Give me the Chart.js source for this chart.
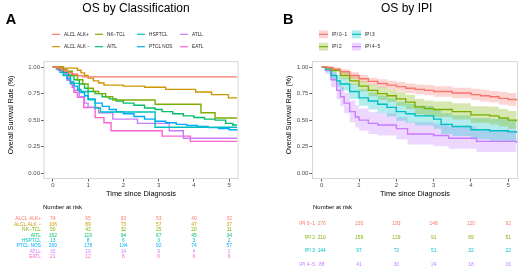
<!DOCTYPE html>
<html><head><meta charset="utf-8">
<script src="https://cdn.jsdelivr.net/npm/chart.js@4.4.0/dist/chart.umd.min.js"></script>
<style>
html,body{margin:0;padding:0;background:#fff;}
#wrap{position:relative;width:520px;height:275px;overflow:hidden;}
canvas{position:absolute;top:0;}
</style></head><body>
<div id="wrap"><canvas id="cA" width="260" height="275" style="left:0"></canvas><canvas id="cB" width="260" height="275" style="left:260px"></canvas></div>
<script>
const FONT = '"Liberation Sans", Arial, Helvetica, sans-serif';
const timeTicks = [0, 1, 2, 3, 4, 5];
const survTicks = [0, 0.25, 0.5, 0.75, 1];

// ---------- Panel A: OS by Classification ----------
const groupsA = ['ALCL ALK+', 'ALCL ALK \u2212', 'NK\u2212TCL', 'AITL', 'HSPTCL', 'PTCL NOS', 'ATLL', 'EATL'];
const colorsA = ['#F8766D', '#CD9600', '#7CAE00', '#00BE67', '#00BFC4', '#00A9FF', '#C77CFF', '#FF61CC'];

const tAlclPos = [0, 0.12, 0.25, 0.35, 0.45, 0.55, 0.7, 0.85, 5.22];
const sAlclPos = [1, 0.986, 0.973, 0.959, 0.946, 0.932, 0.919, 0.907, 0.907];
const tAlclNeg = [0, 0.3, 0.7, 0.8, 0.9, 1.0, 1.15, 1.3, 1.45, 2.0, 2.6, 3.2, 4.05, 4.5, 4.98, 5.22];
const sAlclNeg = [1, 0.99, 0.97, 0.945, 0.92, 0.895, 0.87, 0.85, 0.83, 0.82, 0.81, 0.79, 0.765, 0.74, 0.71, 0.71];
const tNkTcl = [0, 0.25, 0.4, 0.55, 0.7, 0.85, 1.0, 1.15, 1.3, 1.5, 1.7, 2.9, 4.2, 4.6, 5.22];
const sNkTcl = [1, 0.98, 0.96, 0.92, 0.88, 0.84, 0.80, 0.77, 0.75, 0.72, 0.69, 0.65, 0.57, 0.52, 0.52];
const tAitl = [0, 0.15, 0.3, 0.45, 0.6, 0.75, 0.9, 1.0, 1.2, 1.4, 1.6, 1.8, 2.0, 2.3, 2.6, 2.9, 3.1, 3.4, 3.7, 4.0, 4.3, 4.6, 4.9, 5.1, 5.22];
const sAitl = [1, 0.98, 0.95, 0.92, 0.88, 0.84, 0.80, 0.77, 0.75, 0.72, 0.70, 0.68, 0.66, 0.64, 0.615, 0.60, 0.58, 0.56, 0.54, 0.525, 0.51, 0.50, 0.47, 0.455, 0.455];
const tHsptcl = [0, 0.3, 0.5, 0.75, 1.0, 1.2, 1.35, 2.9, 5.22];
const sHsptcl = [1, 0.923, 0.846, 0.769, 0.692, 0.615, 0.577, 0.433, 0.433];
const tPtcl = [0, 0.1, 0.2, 0.3, 0.4, 0.5, 0.6, 0.7, 0.8, 0.9, 1.0, 1.2, 1.4, 1.6, 1.8, 2.0, 2.3, 2.6, 2.9, 3.2, 3.5, 3.8, 4.1, 4.4, 4.7, 5.0, 5.22];
const sPtcl = [1, 0.98, 0.95, 0.92, 0.89, 0.86, 0.82, 0.79, 0.76, 0.73, 0.70, 0.66, 0.63, 0.60, 0.58, 0.56, 0.535, 0.51, 0.49, 0.475, 0.46, 0.45, 0.44, 0.43, 0.42, 0.41, 0.405];
const tAtll = [0, 0.15, 0.3, 0.4, 0.5, 0.6, 0.75, 0.9, 1.0, 1.3, 1.7, 2.4, 3.3, 3.7, 5.22];
const sAtll = [1, 0.97, 0.94, 0.875, 0.84, 0.78, 0.72, 0.66, 0.62, 0.57, 0.51, 0.47, 0.40, 0.33, 0.33];
const tEatl = [0, 0.25, 0.4, 0.5, 0.55, 0.6, 0.7, 0.88, 1.2, 1.45, 1.65, 3.1, 3.9, 5.22];
const sEatl = [1, 0.952, 0.905, 0.857, 0.81, 0.762, 0.714, 0.619, 0.524, 0.476, 0.40, 0.35, 0.30, 0.30];

const riskAlclPos = [74, 65, 63, 53, 40, 32];
const riskAlclNeg = [106, 89, 73, 57, 47, 37];
const riskNkTcl = [50, 42, 32, 25, 20, 11];
const riskAitl = [162, 119, 94, 67, 45, 34];
const riskHsptcl = [13, 8, 6, 3, 3, 2];
const riskPtcl = [260, 178, 134, 92, 74, 57];
const riskAtll = [32, 19, 14, 9, 4, 2];
const riskEatl = [21, 12, 8, 6, 6, 6];

// ---------- Panel B: OS by IPI ----------
const groupsB = ['IPI 0\u22121', 'IPI 2', 'IPI 3', 'IPI 4\u22125'];
const colorsB = ['#F8766D', '#7CAE00', '#00BFC4', '#C77CFF'];
const bandColorsB = ['rgba(248,118,109,0.3)', 'rgba(124,174,0,0.3)', 'rgba(0,191,196,0.3)', 'rgba(199,124,255,0.3)'];

const tIpi01 = [0, 0.15, 0.3, 0.5, 0.75, 1.0, 1.25, 1.5, 1.75, 2.0, 2.25, 2.5, 2.75, 3.0, 3.5, 4.0, 4.25, 4.5, 4.75, 5.0, 5.22];
const sIpi01 = [1, 0.995, 0.98, 0.955, 0.92, 0.89, 0.865, 0.845, 0.83, 0.815, 0.80, 0.79, 0.78, 0.77, 0.755, 0.74, 0.73, 0.72, 0.705, 0.695, 0.685];
const loIpi01 = [1, 0.985, 0.965, 0.93, 0.89, 0.855, 0.83, 0.805, 0.79, 0.77, 0.755, 0.745, 0.735, 0.72, 0.705, 0.69, 0.675, 0.665, 0.645, 0.635, 0.625];
const hiIpi01 = [1, 1, 0.995, 0.98, 0.95, 0.925, 0.90, 0.885, 0.87, 0.86, 0.845, 0.835, 0.83, 0.82, 0.805, 0.795, 0.785, 0.775, 0.765, 0.755, 0.75];

const tIpi2 = [0, 0.1, 0.25, 0.5, 0.75, 1.0, 1.25, 1.5, 1.75, 2.0, 2.25, 2.5, 2.75, 3.0, 3.5, 4.0, 4.5, 4.75, 5.0, 5.22];
const sIpi2 = [1, 0.995, 0.97, 0.92, 0.87, 0.82, 0.78, 0.75, 0.73, 0.70, 0.67, 0.625, 0.61, 0.60, 0.58, 0.55, 0.54, 0.52, 0.50, 0.49];
const loIpi2 = [1, 0.985, 0.95, 0.885, 0.83, 0.77, 0.725, 0.69, 0.67, 0.635, 0.605, 0.555, 0.54, 0.53, 0.505, 0.475, 0.46, 0.44, 0.42, 0.41];
const hiIpi2 = [1, 1, 0.99, 0.955, 0.915, 0.87, 0.835, 0.81, 0.79, 0.765, 0.74, 0.70, 0.685, 0.675, 0.66, 0.63, 0.625, 0.605, 0.585, 0.575];

const tIpi3 = [0, 0.1, 0.25, 0.4, 0.5, 0.75, 1.0, 1.25, 1.5, 1.75, 2.0, 2.25, 2.5, 3.0, 3.2, 3.5, 4.0, 4.5, 5.0, 5.22];
const sIpi3 = [1, 0.98, 0.92, 0.87, 0.84, 0.77, 0.71, 0.68, 0.65, 0.62, 0.58, 0.56, 0.54, 0.51, 0.46, 0.44, 0.41, 0.40, 0.39, 0.38];
const loIpi3 = [1, 0.955, 0.875, 0.815, 0.78, 0.70, 0.635, 0.60, 0.565, 0.535, 0.495, 0.475, 0.45, 0.42, 0.37, 0.35, 0.32, 0.305, 0.295, 0.285];
const hiIpi3 = [1, 1, 0.965, 0.925, 0.90, 0.84, 0.79, 0.76, 0.73, 0.705, 0.67, 0.655, 0.635, 0.60, 0.565, 0.545, 0.52, 0.51, 0.50, 0.49];

const tIpi45 = [0, 0.1, 0.25, 0.4, 0.5, 0.6, 0.75, 0.9, 1.0, 1.25, 1.5, 2.0, 2.3, 3.0, 3.4, 4.15, 5.22];
const sIpi45 = [1, 0.97, 0.88, 0.78, 0.72, 0.66, 0.58, 0.53, 0.50, 0.47, 0.455, 0.42, 0.37, 0.355, 0.33, 0.30, 0.285];
const loIpi45 = [1, 0.935, 0.81, 0.695, 0.63, 0.565, 0.48, 0.43, 0.40, 0.37, 0.355, 0.32, 0.27, 0.255, 0.23, 0.20, 0.18];
const hiIpi45 = [1, 1, 0.95, 0.865, 0.815, 0.76, 0.685, 0.64, 0.61, 0.58, 0.565, 0.53, 0.48, 0.465, 0.44, 0.41, 0.395];

const riskIpi01 = [276, 235, 193, 148, 120, 92];
const riskIpi2 = [210, 159, 129, 91, 69, 51];
const riskIpi3 = [144, 97, 72, 51, 32, 22];
const riskIpi45 = [88, 41, 30, 24, 18, 16];

// ---------- helpers ----------
const pts = (t, s) => t.map((x, i) => ({ x: x, y: s[i] }));
function lineDS(label, t, s, color) {
  return { label, data: pts(t, s), borderColor: color, backgroundColor: color, borderWidth: 1.4,
    stepped: true, pointRadius: 0, fill: false, order: 0 };
}
function bandDS(label, t, lo, hi, fillColor) {
  return [
    { label: label + ' upper', data: pts(t, hi), borderWidth: 0, borderColor: 'rgba(0,0,0,0)', backgroundColor: fillColor,
      stepped: true, pointRadius: 0, fill: '+1', order: 1 },
    { label: label + ' lower', data: pts(t, lo), borderWidth: 0, borderColor: 'rgba(0,0,0,0)', backgroundColor: fillColor,
      stepped: true, pointRadius: 0, fill: false, order: 1 }
  ];
}
function scales() {
  return {
    x: { type: 'linear', min: -0.25, max: 5.25,
      afterBuildTicks: s => { s.ticks = timeTicks.map(v => ({ value: v })); },
      afterFit: s => { s.height = 20; },
      grid: { display: true, drawOnChartArea: false, drawTicks: true, tickLength: 3, color: '#333333', lineWidth: 0.8 },
      border: { display: false },
      ticks: { font: { family: FONT, size: 6 }, color: '#4d4d4d', padding: 0.5, maxRotation: 0, autoSkip: false,
        callback: v => String(v) } },
    y: { type: 'linear', min: -0.05, max: 1.05,
      afterBuildTicks: s => { s.ticks = survTicks.map(v => ({ value: v })); },
      afterFit: s => { s.width = 20; },
      grid: { display: true, drawOnChartArea: false, drawTicks: true, tickLength: 3, color: '#333333', lineWidth: 0.8 },
      border: { display: false },
      ticks: { font: { family: FONT, size: 6 }, color: '#4d4d4d', padding: 1, autoSkip: false,
        callback: v => Number(v).toFixed(2) } }
  };
}
function txt(ctx, s, x, y, size, color, align, bold) {
  ctx.save();
  ctx.font = (bold ? 'bold ' : '') + size + 'px ' + FONT;
  ctx.fillStyle = color; ctx.textAlign = align || 'left'; ctx.textBaseline = 'middle';
  ctx.fillText(s, x, y);
  ctx.restore();
}
function annotPlugin(o) {
  return { id: 'annot', afterDraw(chart) {
    const ctx = chart.ctx, ca = chart.chartArea, xs = chart.scales.x;
    ctx.save(); ctx.strokeStyle = '#cccccc'; ctx.lineWidth = 0.8;
    ctx.strokeRect(ca.left, ca.top, ca.right - ca.left, ca.bottom - ca.top); ctx.restore();
    txt(ctx, o.title, o.titleX, 9, 12, '#000', 'center');
    txt(ctx, o.letter, o.letterX, 20, 14.5, '#000', 'center', true);
    txt(ctx, 'Time since Diagnosis', (ca.left + ca.right) / 2, 194, 7.4, '#000', 'center');
    ctx.save(); ctx.translate(o.yTitleX, 115); ctx.rotate(-Math.PI / 2);
    txt(ctx, 'Overall Survival Rate (%)', 0, 0, 7, '#000', 'center'); ctx.restore();
    o.legend(ctx);
    txt(ctx, 'Number at risk', o.narX, 207, 6, '#000', 'left');
    o.groups.forEach((g, i) => {
      const y = o.rowY[i];
      txt(ctx, g, o.labX, y, o.riskFont, o.colors[i], 'right');
      o.risk[i].forEach((n, j) => txt(ctx, String(n), xs.getPixelForValue(timeTicks[j]), y, o.riskFont, o.colors[i], 'center'));
    });
  } };
}

// ---------- Chart A ----------
const seriesA = [[tAlclPos, sAlclPos], [tAlclNeg, sAlclNeg], [tNkTcl, sNkTcl], [tAitl, sAitl],
  [tHsptcl, sHsptcl], [tPtcl, sPtcl], [tAtll, sAtll], [tEatl, sEatl]];
const riskA = [riskAlclPos, riskAlclNeg, riskNkTcl, riskAitl, riskHsptcl, riskPtcl, riskAtll, riskEatl];

new Chart(document.getElementById('cA'), {
  type: 'line',
  data: { datasets: seriesA.map((d, i) => lineDS(groupsA[i], d[0], d[1], colorsA[i])) },
  options: {
    responsive: false, animation: false, devicePixelRatio: 1,
    layout: { padding: { left: 24, right: 22, top: 61.7, bottom: 76.4 } },
    plugins: { legend: { display: false }, tooltip: { enabled: false } },
    scales: scales()
  },
  plugins: [annotPlugin({
    title: 'OS by Classification', titleX: 136, letter: 'A', letterX: 11, yTitleX: 11,
    narX: 43, labX: 41, riskFont: 4.9,
    rowY: [219, 224.4, 229.8, 235.2, 240.6, 246, 251.4, 256.8],
    groups: groupsA, colors: colorsA, risk: riskA,
    legend: ctx => {
      const colX = [52, 95, 137, 180];
      const rowY = [34.3, 46.7];
      groupsA.forEach((g, i) => {
        const c = Math.floor(i / 2), r = i % 2;
        const x = colX[c], y = rowY[r];
        ctx.save(); ctx.strokeStyle = colorsA[i]; ctx.lineWidth = 1.2;
        ctx.beginPath(); ctx.moveTo(x, y); ctx.lineTo(x + 8, y); ctx.stroke(); ctx.restore();
        txt(ctx, g, x + 12, y, 4.7, '#1a1a1a', 'left');
      });
    }
  })]
});

// ---------- Chart B ----------
const seriesB = [[tIpi01, sIpi01, loIpi01, hiIpi01], [tIpi2, sIpi2, loIpi2, hiIpi2],
  [tIpi3, sIpi3, loIpi3, hiIpi3], [tIpi45, sIpi45, loIpi45, hiIpi45]];
const riskB = [riskIpi01, riskIpi2, riskIpi3, riskIpi45];
const dsB = [];
seriesB.forEach((d, i) => dsB.push(lineDS(groupsB[i], d[0], d[1], colorsB[i])));
seriesB.forEach((d, i) => bandDS(groupsB[i], d[0], d[2], d[3], bandColorsB[i]).forEach(b => dsB.push(b)));

new Chart(document.getElementById('cB'), {
  type: 'line',
  data: { datasets: dsB },
  options: {
    responsive: false, animation: false, devicePixelRatio: 1,
    layout: { padding: { left: 32.4, right: 2.4, top: 61.7, bottom: 76.4 } },
    plugins: { legend: { display: false }, tooltip: { enabled: false } },
    scales: scales()
  },
  plugins: [annotPlugin({
    title: 'OS by IPI', titleX: 146.7, letter: 'B', letterX: 28.3, yTitleX: 29.3,
    narX: 53, labX: 55, riskFont: 4.9,
    rowY: [223.3, 237.2, 251.1, 265],
    groups: groupsB, colors: colorsB, risk: riskB,
    legend: ctx => {
      const colX = [59, 92];
      const rowY = [34.3, 46.7];
      groupsB.forEach((g, i) => {
        const c = Math.floor(i / 2), r = i % 2;
        const x = colX[c], y = rowY[r];
        ctx.save(); ctx.fillStyle = bandColorsB[i]; ctx.fillRect(x, y - 4, 9, 8);
        ctx.strokeStyle = colorsB[i]; ctx.lineWidth = 1.2;
        ctx.beginPath(); ctx.moveTo(x, y); ctx.lineTo(x + 9, y); ctx.stroke(); ctx.restore();
        txt(ctx, g, x + 13, y, 4.7, '#1a1a1a', 'left');
      });
    }
  })]
});
</script>
</body></html>
